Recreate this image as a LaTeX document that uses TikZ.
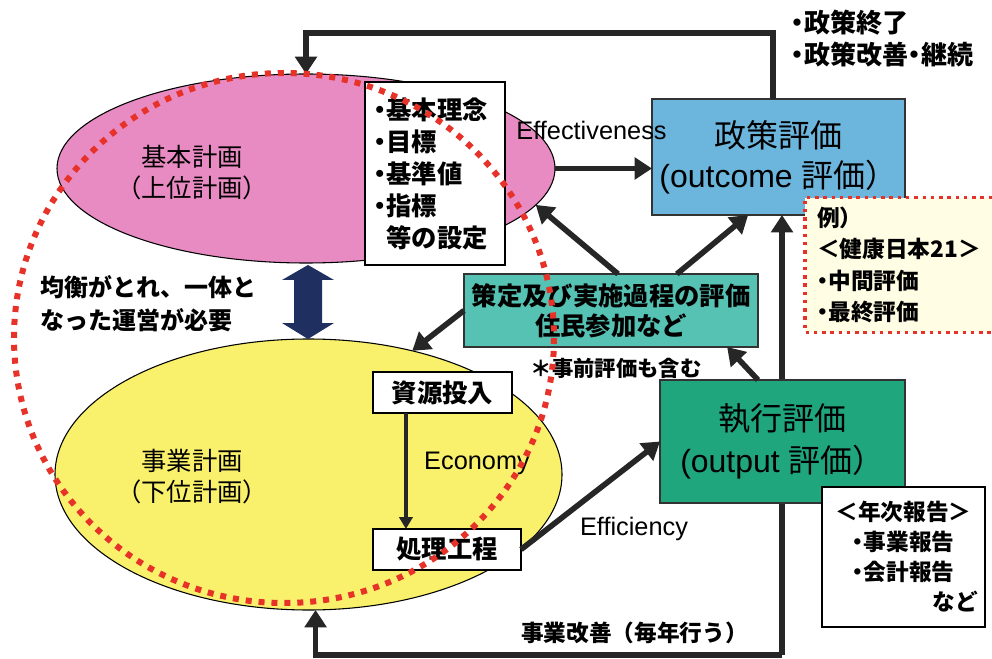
\documentclass[tikz,border=0pt]{standalone}
\usepackage{fontspec}
\setmainfont{Noto Sans CJK JP}
\newfontfamily\lat{Liberation Sans}
\usetikzlibrary{shapes.geometric,arrows.meta,calc}
\definecolor{pinkc}{HTML}{E88BC2}
\definecolor{bluec}{HTML}{6CB6DE}
\definecolor{yellowc}{HTML}{F9F06C}
\definecolor{tealc}{HTML}{56C2B4}
\definecolor{greenc}{HTML}{1FA67D}
\definecolor{navyc}{HTML}{1F2F60}
\definecolor{creamc}{HTML}{FFFDE3}
\definecolor{redc}{HTML}{E63228}
\definecolor{darkc}{HTML}{262626}
\newcommand\nakaten{\makebox[0.5em][c]{・}}
\begin{document}
\begin{tikzpicture}[x=0.75pt,y=-0.75pt,
  line join=miter,
  arr/.style={draw=darkc, line width=4.2pt, -{Triangle[length=13pt,width=16pt]}},
  thinarr/.style={draw=darkc, line width=3pt, -{Triangle[length=9pt,width=10pt]}},
  plan/.style={ellipse, draw=black, line width=0.8pt, inner sep=0pt, outer sep=0pt},
  wbox/.style={draw=black, fill=white, line width=1.3pt, inner sep=0pt, outer sep=0pt},
  evalbox/.style={draw=black!80, line width=0.8pt, inner sep=0pt, outer sep=0pt},
  reddot/.style={draw=redc, line width=4.5pt, dash pattern=on 4.5pt off 5.2pt},
  reddotsmall/.style={draw=redc, line width=2.6pt, dash pattern=on 2.6pt off 3.6pt},
  plain/.style={inner sep=0pt, outer sep=0pt}
]
\useasboundingbox[fill=white] (0,0) rectangle (992,659);

% plans
\node[plan, fill=pinkc, minimum width=373.5pt, minimum height=141.75pt] (pink) at (306,168.5) {};
\node[plan, fill=yellowc, minimum width=380.25pt, minimum height=203.25pt] (yellow) at (308.5,474.5) {};
\node[plain, align=center, font=\fontsize{19pt}{23pt}\selectfont] (pinkl) at (192,172.5) {基本計画\\（上位計画）};
\node[plain, align=center, font=\fontsize{19pt}{23pt}\selectfont] (yellowl) at (192,476.5) {事業計画\\（下位計画）};

% goals box
\node[wbox, minimum width=105pt, minimum height=137.25pt, text width=92pt, align=left, inner xsep=6.5pt,
      font=\bfseries\fontsize{19pt}{24pt}\selectfont] (goals) at (435,173.5)
      {\nakaten 基本理念\\\nakaten 目標\\\nakaten 基準値\\\nakaten 指標\\\hspace*{0.5em}等の設定};

% policy evaluation
\node[evalbox, fill=bluec, minimum width=189.75pt, minimum height=87pt, align=center,
      font=\fontsize{24pt}{30pt}\selectfont] (policy) at (778.5,157)
      {政策評価\\{\lat (outcome }評価）};

% example box
\node[fill=creamc, inner ysep=0pt, inner xsep=9pt, text width=122pt, minimum height=100.5pt, align=left,
      font=\bfseries\fontsize{17pt}{23.5pt}\selectfont] (ex) at (898.5,265)
      {例）\\＜健康日本21＞\\\nakaten 中間評価\\\nakaten 最終評価};
\draw[reddotsmall] (ex.north east) -- (ex.north west) -- (ex.south west) -- (ex.south east);

% top loop
\coordinate (topR) at (773,33);
\draw[arr] (policy.north -| topR) |- (pink.north |- topR) -- (pink.north);
\node[plain, anchor=west, align=left, font=\bfseries\fontsize{19.5pt}{24pt}\selectfont] (ptext) at (791,39)
      {\nakaten 政策終了\\\nakaten 政策改善\nakaten 継続};

% effectiveness
\node[plain, font=\lat\fontsize{19pt}{20pt}\selectfont] (eff) at (591.5,130) {Effectiveness};
\draw[arr] (pink.east) -- (pink.east -| policy.west);

% process evaluation
\node[evalbox, fill=tealc, minimum width=220.5pt, minimum height=54.75pt, align=center,
      font=\bfseries\fontsize{19pt}{22.5pt}\selectfont] (proc) at (611,310.5)
      {策定及び実施過程の評価\\住民参加など};
\node[plain, font=\bfseries\fontsize{16pt}{18pt}\selectfont] (note) at (616,368) {＊事前評価も含む};

% balance arrow and text
\fill[navyc] (308,265) -- (334,280) -- (322,280) -- (322,323) -- (334,323) -- (308,339)
  -- (282,323) -- (294,323) -- (294,280) -- (282,280) -- cycle;
\node[plain, anchor=west, align=left, font=\bfseries\fontsize{18pt}{24.75pt}\selectfont] (balance) at (40,303.5)
      {均衡がとれ、一体と\\なった運営が必要};

% bottom loop and vertical line
\coordinate (botR) at (782,655);
\draw[arr] (botR) -- (policy.south -| botR);
\draw[arr] (botR) -| (yellow.-87);
\node[plain, font=\bfseries\fontsize{17pt}{18pt}\selectfont] (kaizen) at (634.5,633) {事業改善（毎年行う）};

% execution evaluation
\node[evalbox, fill=greenc, minimum width=183.75pt, minimum height=92.25pt, align=center,
      font=\fontsize{24pt}{31pt}\selectfont] (exec) at (782.5,441.5)
      {執行評価\\{\lat (output }評価）};

% annual report
\node[wbox, minimum width=122.25pt, minimum height=105pt, text width=112pt, align=center,
      font=\bfseries\fontsize{17pt}{22.5pt}\selectfont] (annual) at (903.5,557)
      {＜年次報告＞\\\nakaten 事業報告\\\nakaten 会計報告\\\hspace*{\fill}など};

% resources and work
\node[wbox, minimum width=104.25pt, minimum height=30.75pt, font=\bfseries\fontsize{19pt}{20pt}\selectfont] (res) at (442.5,392.5) {資源投入};
\node[wbox, minimum width=111pt, minimum height=30.75pt, font=\bfseries\fontsize{19pt}{20pt}\selectfont] (work) at (447,549.5) {処理工程};
\coordinate (rs) at ($(res.south west)!0.237!(res.south east)$);
\draw[thinarr] (rs) -- (rs |- work.north);
\node[plain, font=\lat\fontsize{19pt}{20pt}\selectfont] (econ) at (477,463) {Economy};
\node[plain, font=\lat\fontsize{19pt}{20pt}\selectfont] (effic) at (634,529) {Efficiency};
\draw[arr] (work.east) -- (exec.west);

% arrows around process evaluation
\draw[arr] ($(proc.north west)!0.524!(proc.north east)$) -- (pink.-9);
\draw[arr] ($(proc.north west)!0.724!(proc.north east)$) -- ($(policy.south west)!0.38!(policy.south east)$);
\draw[arr] (proc.west) -- (yellow.50);
\draw[arr] ($(exec.north west)!0.4!(exec.north east)$) -- ($(proc.south west)!0.895!(proc.south east)$);

% red dotted circle
\draw[reddot] (284,338) ellipse [x radius=270, y radius=265];
\end{tikzpicture}
\end{document}
